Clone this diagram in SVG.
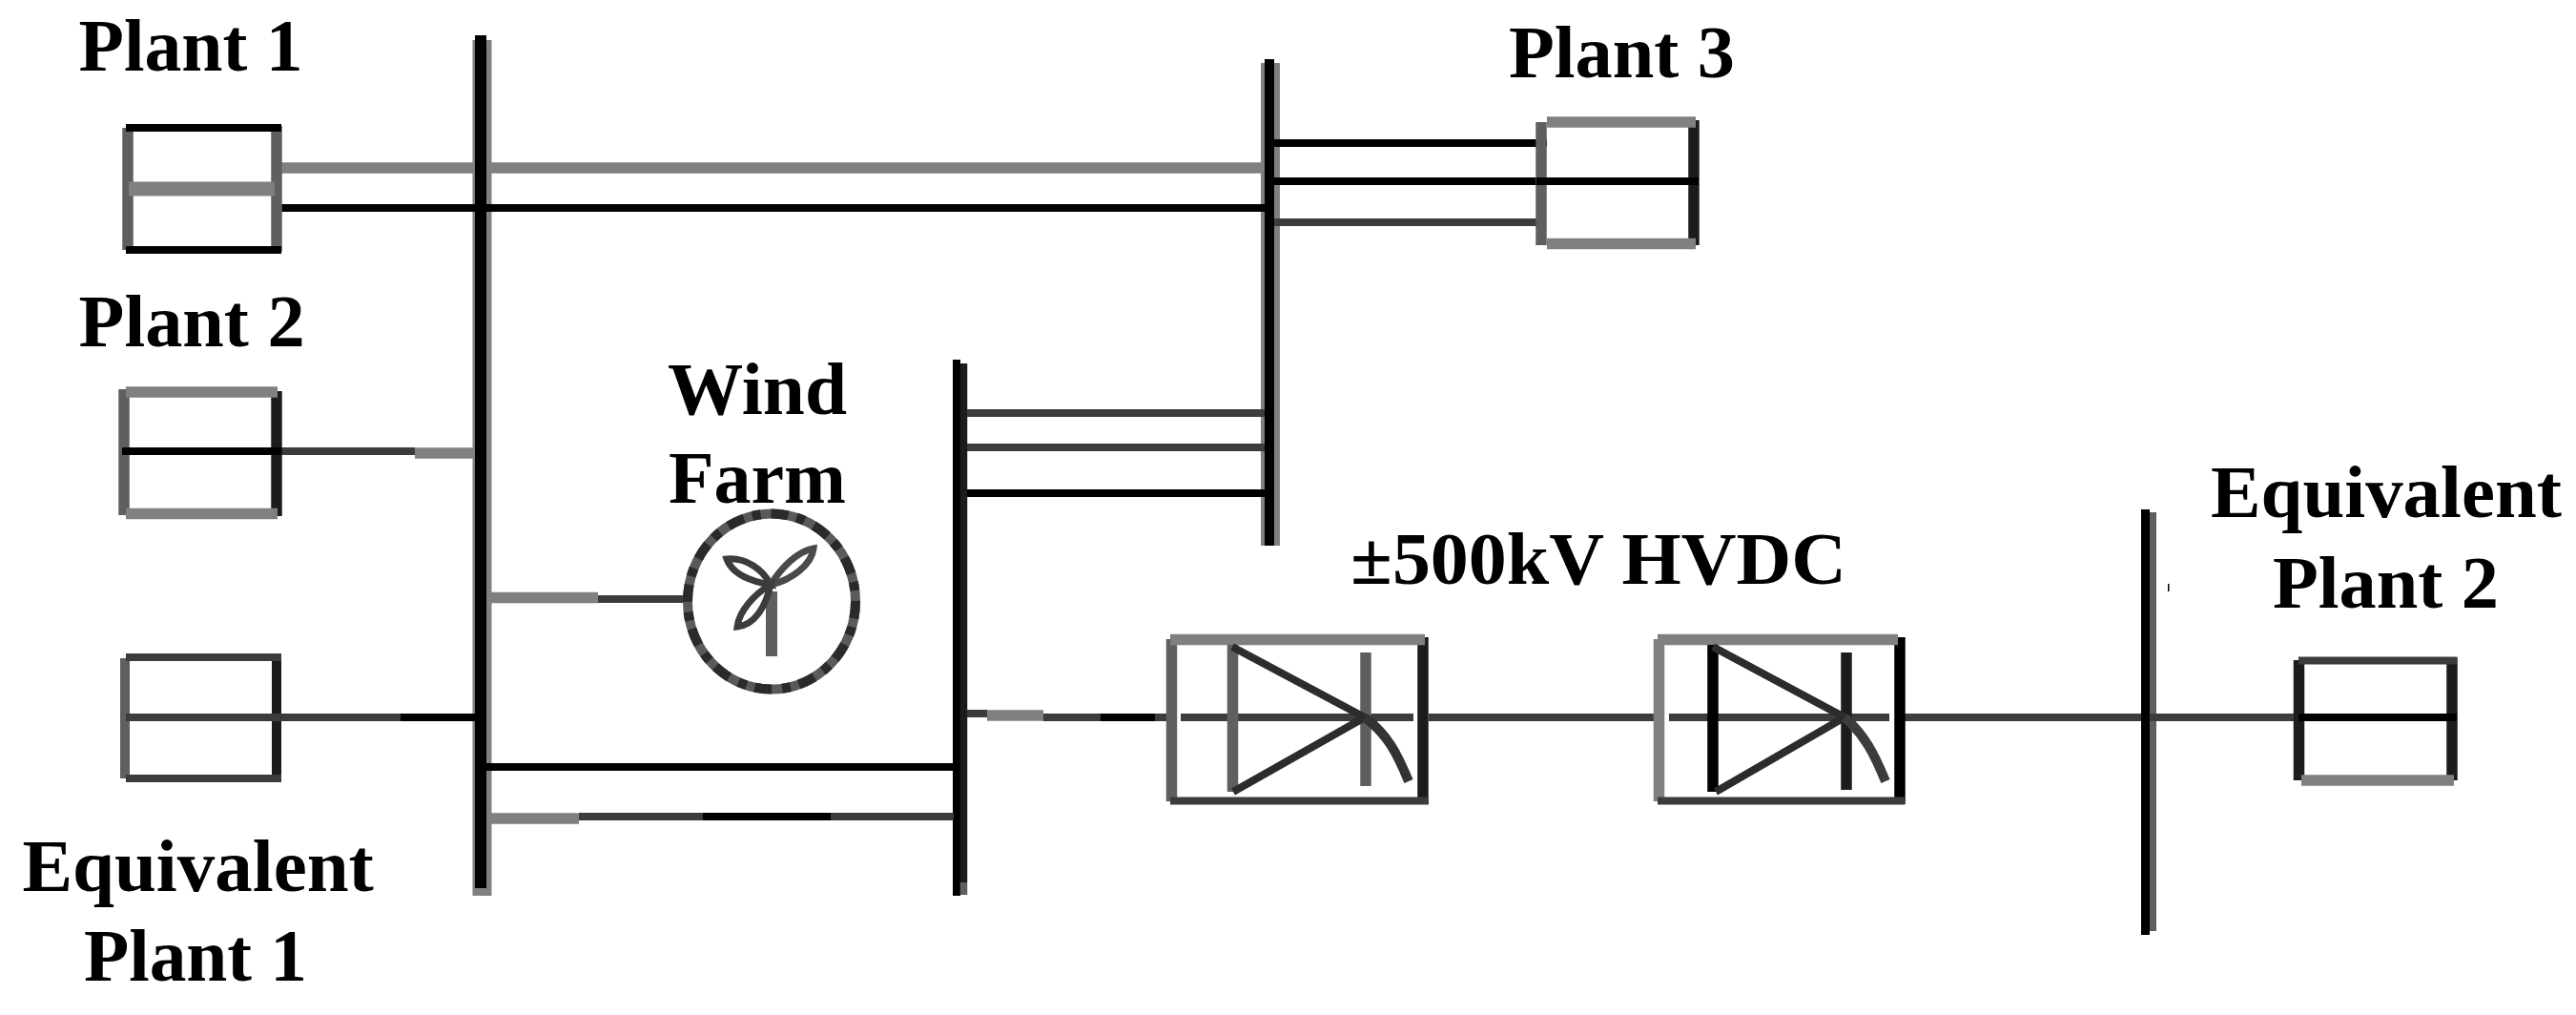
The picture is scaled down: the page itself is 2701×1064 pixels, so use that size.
<svg xmlns="http://www.w3.org/2000/svg" width="2701" height="1064" viewBox="0 0 2701 1064">
<style>
line{fill:none}
.k{stroke:#000}.n{stroke:#1c1c1c}.d{stroke:#3c3c3c}.m{stroke:#5f5f5f}.g{stroke:#808080}
.w8{stroke-width:8}.w11{stroke-width:11.5}
.l{font-family:"Liberation Serif","Times New Roman",serif;font-weight:bold;font-size:78px;fill:#000}
</style>
<rect width="2701" height="1064" fill="#fff"/>
<g id="bus-1">
<line class="g" stroke-width="20" x1="505.500" y1="42" x2="505.500" y2="939"/>
<line class="k" stroke-width="12" x1="504" y1="37" x2="504" y2="931"/>
</g>
<g id="bus-2">
<line class="k" stroke-width="8" x1="1003" y1="377" x2="1003" y2="939"/>
<line class="n" stroke-width="7.500" x1="1010.500" y1="381" x2="1010.500" y2="925"/>
<line class="m" stroke-width="7.500" x1="1010.500" y1="925" x2="1010.500" y2="938"/>
</g>
<g id="bus-3">
<line class="g" stroke-width="20" x1="1332" y1="66" x2="1332" y2="572"/>
<line class="k" stroke-width="10" x1="1331" y1="62" x2="1331" y2="572"/>
</g>
<g id="bus-4">
<line class="m" stroke-width="8" x1="2257" y1="537" x2="2257" y2="976"/>
<line class="k" stroke-width="9" x1="2249.500" y1="534" x2="2249.500" y2="980"/>
</g>
<g id="connectors">
<line class="g w11" x1="295" y1="176" x2="498" y2="176"/>
<line class="g w11" x1="510" y1="176" x2="1326" y2="176"/>
<line class="k w8" x1="295" y1="218" x2="1326" y2="218"/>
<line class="d w8" x1="295" y1="473" x2="435" y2="473"/>
<line class="g w11" x1="435" y1="475" x2="497" y2="475"/>
<line class="d w8" x1="295" y1="752" x2="420" y2="752"/>
<line class="k w8" x1="420" y1="752" x2="498" y2="752"/>
<line class="g w11" x1="510" y1="626.5" x2="627" y2="626.5"/>
<line class="d w8" x1="627" y1="628" x2="717" y2="628"/>
<line class="k w8" x1="510" y1="804" x2="1000" y2="804"/>
<line class="g w11" x1="510" y1="858" x2="607" y2="858"/>
<line class="d w8" x1="607" y1="856" x2="737" y2="856"/>
<line class="k w8" x1="737" y1="856" x2="871" y2="856"/>
<line class="d w8" x1="871" y1="856" x2="1000" y2="856"/>
<line class="d w8" x1="1014" y1="433" x2="1326" y2="433"/>
<line class="d w8" x1="1014" y1="469" x2="1326" y2="469"/>
<line class="k w8" x1="1014" y1="517" x2="1326" y2="517"/>
<line class="k w8" x1="1336" y1="150" x2="1622" y2="150"/>
<line class="k w8" x1="1336" y1="190" x2="1622" y2="190"/>
<line class="d w8" x1="1336" y1="233" x2="1611" y2="233"/>
<line class="d w8" x1="1014" y1="748" x2="1035" y2="748"/>
<line class="g w11" x1="1035" y1="750" x2="1094" y2="750"/>
<line class="d w8" x1="1094" y1="752" x2="1154" y2="752"/>
<line class="k w8" x1="1154" y1="752" x2="1211" y2="752"/>
<line class="d w8" x1="1211" y1="752" x2="1223" y2="752"/>
<line class="d w8" x1="1498" y1="752" x2="1734" y2="752"/>
<line class="d w8" x1="1997" y1="752" x2="2245" y2="752"/>
<line class="d w8" x1="2254" y1="752" x2="2405" y2="752"/>
</g>
<g id="plant-1">
<line class="m w11" x1="134" y1="134" x2="134" y2="262"/>
<line class="m w11" x1="290" y1="132" x2="290" y2="264"/>
<line class="k w8" x1="132" y1="134" x2="295" y2="134"/>
<line class="k w8" x1="132" y1="262" x2="295" y2="262"/>
<line class="g" stroke-width="15" x1="135" y1="198" x2="288" y2="198"/>
<text class="l" x="82.600" y="74" textLength="235" lengthAdjust="spacingAndGlyphs">Plant 1</text>
</g>
<g id="plant-2">
<line class="m w11" x1="130" y1="408" x2="130" y2="540"/>
<line class="n w11" x1="290" y1="410" x2="290" y2="541"/>
<line class="g w11" x1="132" y1="411" x2="291" y2="411"/>
<line class="g w11" x1="132" y1="538.500" x2="291" y2="538.500"/>
<line class="k w8" x1="128" y1="473" x2="295" y2="473"/>
<text class="l" x="82.600" y="362.500" textLength="237" lengthAdjust="spacingAndGlyphs">Plant 2</text>
</g>
<g id="equivalent-plant-1">
<line class="m" stroke-width="10" x1="131" y1="690" x2="131" y2="816"/>
<line class="n" stroke-width="10" x1="290" y1="685" x2="290" y2="820"/>
<line class="d w8" x1="132" y1="689" x2="295" y2="689"/>
<line class="d w8" x1="132" y1="752" x2="295" y2="752"/>
<line class="d w8" x1="132" y1="816" x2="295" y2="816"/>
<text class="l" x="23.400" y="933.500" textLength="368.500" lengthAdjust="spacingAndGlyphs">Equivalent</text>
<text class="l" x="88" y="1027.700" textLength="234" lengthAdjust="spacingAndGlyphs">Plant 1</text>
</g>
<g id="plant-3">
<line class="m w11" x1="1616" y1="128" x2="1616" y2="257"/>
<line class="n w11" x1="1776" y1="126" x2="1776" y2="257"/>
<line class="g w11" x1="1622" y1="128" x2="1778" y2="128"/>
<line class="g w11" x1="1622" y1="255.500" x2="1778" y2="255.500"/>
<line class="k w8" x1="1611" y1="190" x2="1781" y2="190"/>
<text class="l" x="1582" y="80.700" textLength="237" lengthAdjust="spacingAndGlyphs">Plant 3</text>
</g>
<g id="wind-farm" fill="none">
<ellipse cx="809" cy="630.500" rx="88" ry="92" stroke="#5a5a5a" stroke-width="10"/>
<ellipse cx="809" cy="630.500" rx="88" ry="92" stroke="#2a2a2a" stroke-width="10" stroke-dasharray="18 9 9 11"/>
<line class="m" stroke-width="12" x1="809" y1="620" x2="809" y2="688"/>
<path d="M808 613C790 610 768 603 762 586C782 584 800 597 808 613Z" stroke="#3c3c3c" stroke-width="7"/>
<path d="M808 613C818 597 835 578 853 575C851 592 830 608 808 613Z" stroke="#4a4a4a" stroke-width="7"/>
<path d="M808 613C792 622 775 640 773 657C792 655 803 635 808 613Z" stroke="#3c3c3c" stroke-width="7"/>
<text class="l" x="700" y="434" textLength="188" lengthAdjust="spacingAndGlyphs">Wind</text>
<text class="l" x="701" y="527" textLength="186" lengthAdjust="spacingAndGlyphs">Farm</text>
</g>
<g id="converter-1" fill="none">
<line class="m w11" x1="1228.500" y1="670" x2="1228.500" y2="840"/>
<line class="n w11" x1="1492" y1="668" x2="1492" y2="843"/>
<line class="g w11" x1="1227" y1="670.500" x2="1494" y2="670.500"/>
<line class="d w8" x1="1227" y1="839.500" x2="1498" y2="839.500"/>
<line class="d w8" x1="1238" y1="752" x2="1482" y2="752"/>
<line class="m w11" x1="1292.500" y1="676" x2="1292.500" y2="830"/>
<line class="m w11" x1="1432" y1="684" x2="1432" y2="824"/>
<path d="M1292 678L1431 752L1293 830" stroke="#2c2c2c" stroke-width="8"/>
<path d="M1431 752C1455 770 1465 790 1477 819" stroke="#333" stroke-width="10"/>
</g>
<g id="converter-2" fill="none">
<line class="g w11" x1="1739.500" y1="670" x2="1739.500" y2="840"/>
<line class="k w11" x1="1992" y1="668" x2="1992" y2="843"/>
<line class="g w11" x1="1738" y1="670.500" x2="1990" y2="670.500"/>
<line class="d w8" x1="1738" y1="839.500" x2="1997" y2="839.500"/>
<line class="d w8" x1="1750" y1="752" x2="1981" y2="752"/>
<line class="k w11" x1="1796" y1="676" x2="1796" y2="830"/>
<line class="n w11" x1="1936" y1="684" x2="1936" y2="828"/>
<path d="M1796 678L1934 752L1799 830" stroke="#2c2c2c" stroke-width="8"/>
<path d="M1934 752C1955 770 1965 790 1977 819" stroke="#3c3c3c" stroke-width="10"/>
<text class="l" x="1416" y="612" textLength="520" lengthAdjust="spacingAndGlyphs">±500kV HVDC</text>
</g>
<g id="equivalent-plant-2">
<line class="n w11" x1="2410.500" y1="692" x2="2410.500" y2="818"/>
<line class="n w11" x1="2571" y1="689" x2="2571" y2="818"/>
<line class="d w8" x1="2410" y1="692.500" x2="2576" y2="692.500"/>
<line class="g w11" x1="2413" y1="818" x2="2573" y2="818"/>
<line class="k w8" x1="2410" y1="752" x2="2576" y2="752"/>
<rect x="2273" y="612" width="1.500" height="8" fill="#000"/>
<text class="l" x="2318" y="542" textLength="368" lengthAdjust="spacingAndGlyphs">Equivalent</text>
<text class="l" x="2383" y="637" textLength="237" lengthAdjust="spacingAndGlyphs">Plant 2</text>
</g>
</svg>
